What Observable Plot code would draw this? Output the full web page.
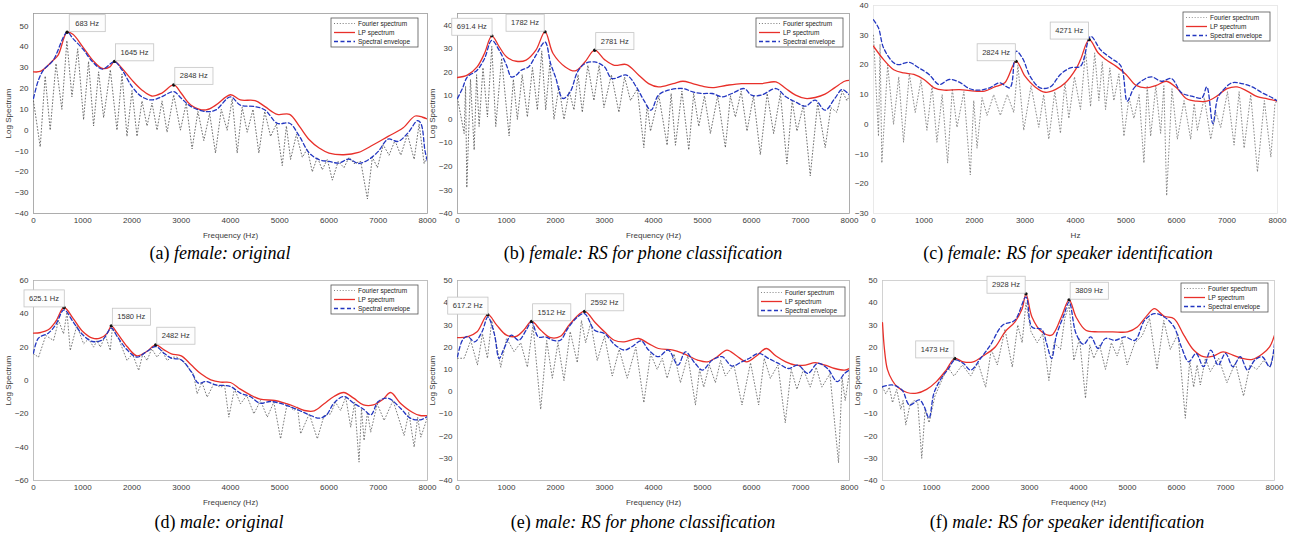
<!DOCTYPE html>
<html><head><meta charset="utf-8">
<script src="https://cdn.jsdelivr.net/npm/d3@7"></script>
<script src="https://cdn.jsdelivr.net/npm/@observablehq/plot@0.6"></script>
<style>
body{margin:0;background:#fff;}
#wrap{position:relative;width:1295px;height:539px;overflow:hidden;background:#fff;}
.cap{position:absolute;width:440px;text-align:center;font-family:"Liberation Serif","Times New Roman",serif;font-size:18px;line-height:20px;color:#000;white-space:nowrap;}
.cap i{font-style:italic;}
</style></head><body><div id="wrap"></div><script>
// ---------- tick labels / texts ----------
const xTicks = [0,1000,2000,3000,4000,5000,6000,7000,8000];
const yTicksA = [-40,-30,-20,-10,0,10,20,30,40,50];
const yTicksB = [-40,-30,-20,-10,0,10,20,30,40];
const yTicksC = [-30,-20,-10,0,10,20,30,40];
const yTicksD = [-60,-40,-20,0,20,40,60];
const yTicksE = [-40,-30,-20,-10,0,10,20,30,40,50];
const yTicksF = [-40,-30,-20,-10,0,10,20,30,40,50];
const legendLabels = ["Fourier spectrum","LP spectrum","Spectral envelope"];
const xLabelFreq = "Frequency (Hz)";
const xLabelHz = "Hz";
const yLabelLog = "Log Spectrum";
const captions = [["(a) ","female: original"],["(b) ","female: RS for phone classification"],["(c) ","female: RS for speaker identification"],["(d) ","male: original"],["(e) ","male: RS for phone classification"],["(f) ","male: RS for speaker identification"]];

// ---------- (a) female original ----------
const lpA = [[0,28],[150,28.3],[400,33.6],[500,36],[683,47],[800,46],[1000,40],[1200,33.6],[1400,29.6],[1550,30.4],[1645,33],[1800,29.6],[2000,24],[2200,19.3],[2400,16.4],[2600,17.7],[2848,21.7],[3000,17.7],[3200,12],[3500,9.7],[3700,12],[4000,17],[4200,14.5],[4500,14.2],[4700,11.3],[4950,7.6],[5200,7.6],[5400,1.8],[5600,-4.6],[5800,-8.6],[6000,-11],[6300,-11.8],[6600,-10.7],[6900,-7],[7200,-3],[7500,1],[7750,6.8],[7900,6.2],[8000,5.3]];
const envA = [[0,15.3],[100,24],[200,28.8],[400,33.6],[683,47],[800,44],[1000,39],[1200,32.8],[1400,29.3],[1645,32.8],[1800,28.8],[2000,20.9],[2200,16],[2400,14.5],[2600,16],[2848,18.5],[3000,15.3],[3200,11.3],[3500,8.9],[3700,9.7],[4000,16],[4200,12],[4500,11.3],[4700,9.7],[4950,3.3],[5200,3.3],[5400,-3],[5600,-11],[5800,-14.2],[6000,-15],[6200,-15.8],[6400,-13.9],[6600,-16],[6800,-14.2],[7000,-10.2],[7200,-4.3],[7400,-5.4],[7600,-1.4],[7800,4.6],[7870,3],[7950,-10],[8000,-15]];
const fourierA = [[0,14],[136,-8],[237,26],[339,0],[457,32],[576,10],[678,43],[780,16],[898,39],[1017,5],[1118,33],[1220,2],[1322,28],[1424,6],[1560,29],[1695,0],[1797,27],[1898,-3],[2000,19],[2102,-3],[2203,14],[2305,2],[2407,13],[2508,0],[2610,14],[2712,-1],[2847,17],[2983,0],[3100,13],[3220,-9],[3339,9],[3458,-5],[3576,8],[3695,-11],[3813,10],[3932,0],[4034,15],[4136,-11],[4237,11],[4339,-1],[4457,10],[4576,-11],[4695,9],[4814,-3],[4932,3],[5051,-17],[5135,2],[5220,-14],[5339,-2],[5458,-13],[5559,-9],[5661,-20],[5763,-13],[5864,-19],[5966,-14],[6068,-24],[6186,-15],[6305,-18],[6407,-13],[6508,-16],[6644,-15],[6780,-33],[6881,-13],[6983,-18],[7100,-7],[7220,-12],[7339,-5],[7458,-12],[7593,-2],[7729,-14],[7830,3],[7932,-16],[8000,-12]];
const tipsA = [[683,47,"683 Hz"],[1645,33,"1645 Hz"],[2848,21.7,"2848 Hz"]];

// ---------- (b) female RS phone ----------
const lpB = [[0,17.8],[200,18.8],[400,22.3],[550,28],[700,35.5],[850,30.9],[1000,26.6],[1200,24.7],[1400,25.2],[1600,29.4],[1786,37.2],[1950,28],[2200,22.3],[2400,20.6],[2600,24.4],[2800,29.4],[3000,25.4],[3200,23],[3450,23.3],[3700,18.8],[3900,15.2],[4100,13.8],[4400,15.2],[4600,16.2],[4800,15.2],[5000,14.1],[5200,13.5],[5500,14.5],[5800,15.2],[6200,15.2],[6500,15.9],[6700,13.1],[6900,10.3],[7100,8.9],[7300,9.3],[7500,10.7],[7700,13.5],[7900,16.2],[8000,16.6]];
const envB = [[0,8.9],[100,13.1],[200,18],[400,20.9],[550,25.8],[700,33.6],[850,29.4],[1000,23],[1100,18],[1200,18.8],[1300,20.9],[1450,22.3],[1600,27.2],[1786,32.9],[1900,23.7],[2000,18],[2150,8.9],[2300,11.7],[2450,20.2],[2600,23.7],[2800,24.4],[3000,22.3],[3150,17.4],[3450,18.8],[3650,13.8],[3800,8.2],[3950,3.9],[4100,10.3],[4300,12.4],[4600,13.1],[4800,11.7],[5000,11],[5200,11],[5400,9.6],[5600,11],[5850,13.1],[6000,10.3],[6200,10.3],[6500,13.1],[6700,9.6],[6900,7.4],[7100,5.6],[7300,8.2],[7500,3.9],[7700,8.9],[7850,12.7],[8000,10.3]];
const fourierB = [[0,9],[136,-6],[165,14],[190,-29],[265,17],[340,-13],[390,19],[441,-3],[520,22],[611,1],[700,31],[781,-3],[900,26],[1053,-7],[1140,17],[1222,0],[1320,19],[1426,1],[1530,22],[1630,4],[1720,29],[1800,4],[1885,24],[1969,0],[2070,14],[2173,0],[2280,12],[2377,4],[2460,19],[2547,3],[2660,23],[2784,8],[2890,23],[2988,5],[3140,19],[3294,3],[3410,18],[3531,8],[3670,13],[3803,-12],[3870,6],[3939,-5],[4110,10],[4278,-11],[4360,11],[4448,-11],[4580,12],[4720,-13],[4820,11],[4924,-3],[5040,10],[5161,-6],[5310,10],[5467,-12],[5570,10],[5671,1],[5790,12],[5908,-5],[6040,10],[6180,-15],[6320,11],[6452,-6],[6590,11],[6723,-19],[6830,8],[6927,-5],[7060,6],[7199,-24],[7350,7],[7504,-12],[7620,5],[7742,3],[7850,12],[7946,8],[8000,10]];
const tipsB = [[700,35.5,"691.4 Hz"],[1786,37.2,"1782 Hz"],[2800,29.4,"2781 Hz"]];

// ---------- (c) female RS speaker ----------
const lpC = [[0,26.3],[200,21.8],[400,18.4],[600,17.3],[800,16.8],[1000,15.1],[1200,12.3],[1400,11.5],[1700,11.7],[2000,11.2],[2200,11.2],[2400,12.6],[2600,14],[2824,21.2],[3000,16.2],[3200,12.6],[3400,10.8],[3600,11.7],[3800,14],[4000,18.4],[4100,21.8],[4271,28.5],[4450,24],[4600,21.8],[4800,19.6],[5000,16.8],[5200,13.1],[5400,12.3],[5600,13.1],[5800,14.5],[6000,12.3],[6200,8.6],[6400,7.8],[6600,7.8],[6800,9.5],[7000,12],[7200,12.6],[7400,11.2],[7600,9.3],[7800,8.6],[8000,7.8]];
const envC = [[0,35.2],[100,32.4],[200,25.7],[400,20.7],[500,20.1],[700,20.9],[900,19],[1100,16.8],[1300,13.4],[1500,15.1],[1700,14.2],[1900,12],[2100,11.5],[2300,12.3],[2500,14],[2700,12.3],[2824,24.6],[2950,22.3],[3100,16.2],[3300,12.3],[3500,12.6],[3700,16.8],[3900,19],[4100,19.6],[4300,29.6],[4500,25],[4700,22.3],[4900,19.6],[5025,7.8],[5150,12],[5300,14.5],[5500,16],[5700,14.5],[5900,15.4],[6100,10.6],[6300,9.5],[6500,8.9],[6600,12.6],[6720,0.2],[6820,9],[6950,12],[7100,14],[7300,13.7],[7500,12.6],[7700,10.6],[7900,8.9],[8000,7.8]];
const fourierC = [[0,30],[99,-4],[130,27],[165,-13],[280,20],[397,0],[500,16],[595,-6],[710,17],[826,4],[940,15],[1058,-2],[1160,13],[1256,-6],[1360,10],[1468,-13],[1560,12],[1653,-1],[1790,11],[1917,-17],[1985,8],[2050,-8],[2150,9],[2248,3],[2380,10],[2512,3],[2650,10],[2777,4],[2860,20],[2975,-2],[3120,13],[3273,-1],[3370,10],[3471,-5],[3590,11],[3702,-3],[3790,14],[3868,2],[3980,16],[4099,5],[4200,25],[4298,6],[4380,24],[4463,8],[4530,21],[4595,5],[4680,19],[4760,8],[4860,17],[4959,-4],[5060,9],[5157,2],[5260,10],[5355,-13],[5420,13],[5488,-4],[5590,13],[5686,-3],[5750,13],[5805,-24],[5910,12],[6017,-5],[6150,8],[6281,-5],[6350,7],[6413,-2],[6550,9],[6678,-5],[6780,4],[6876,-1],[7010,11],[7140,-7],[7240,11],[7339,-8],[7470,10],[7603,-16],[7740,8],[7868,-11],[7950,7],[8000,8]];
const tipsC = [[2824,21.2,"2824 Hz"],[4271,28.5,"4271 Hz"]];

// ---------- (d) male original ----------
const lpD = [[0,28.4],[150,28.8],[300,30.4],[450,35.4],[620,43.8],[800,37.4],[1000,29.4],[1200,25.4],[1350,25.4],[1500,28.4],[1580,32.8],[1700,28.4],[1900,20.4],[2100,14.8],[2300,17.4],[2482,21.4],[2650,18.4],[2800,16],[3000,14.8],[3200,9.4],[3400,4],[3600,0.4],[3800,-1],[4000,-1.2],[4200,-5.2],[4400,-8.6],[4600,-11.2],[4900,-12],[5100,-13.6],[5300,-15.6],[5500,-18],[5700,-18.2],[5900,-14],[6100,-9.6],[6300,-7.2],[6500,-10.6],[6700,-14.6],[6900,-14.6],[7100,-11.2],[7250,-7.2],[7450,-13.6],[7700,-19.2],[7850,-21],[8000,-21]];
const envD = [[0,16.4],[100,25.4],[300,28.4],[450,33.4],[620,42.4],[800,35.4],[1000,27.4],[1200,23.4],[1400,24.4],[1580,31.4],[1700,26.4],[1900,18.4],[2100,14],[2300,17.4],[2482,20.4],[2650,16.4],[2800,13.4],[3000,12.4],[3200,5.4],[3350,-1.6],[3500,-0.6],[3700,-2.6],[4000,-3.6],[4200,-7.6],[4400,-9.6],[4600,-13.6],[4800,-12.6],[5000,-13.6],[5200,-15.6],[5400,-18],[5600,-20.6],[5800,-22.6],[5950,-20.6],[6100,-13.6],[6300,-9.6],[6500,-13.6],[6700,-17.2],[6850,-20.6],[7000,-12.6],[7200,-10.6],[7450,-16.6],[7650,-22.6],[7850,-23.6],[8000,-21.6]];
const fourierD = [[0,16],[102,14],[250,27],[407,24],[510,36],[610,28],[680,41],[746,18],[880,33],[1017,22],[1120,25],[1220,20],[1290,24],[1356,20],[1460,27],[1559,18],[1600,31],[1730,25],[1898,12],[2010,16],[2136,6],[2220,16],[2305,12],[2400,19],[2508,14],[2610,18],[2712,12],[2810,14],[2915,14],[3050,11],[3186,6],[3250,4],[3322,-8],[3420,-1],[3525,-10],[3660,-2],[3797,-4],[3880,-3],[3966,-22],[4080,-5],[4203,-14],[4330,-9],[4475,-20],[4610,-12],[4746,-22],[4880,-13],[5017,-35],[5150,-14],[5288,-18],[5360,-16],[5424,-32],[5600,-20],[5763,-35],[5900,-21],[6034,-20],[6130,-13],[6237,-18],[6340,-10],[6441,-28],[6520,-13],[6610,-49],[6660,-17],[6712,-36],[6780,-19],[6847,-31],[6980,-14],[7119,-24],[7300,-12],[7525,-33],[7620,-19],[7729,-40],[7800,-22],[7864,-34],[8000,-22]];
const tipsD = [[620,43.8,"625.1 Hz"],[1580,32.8,"1580 Hz"],[2482,21.4,"2482 Hz"]];

// ---------- (e) male RS phone ----------
const lpE = [[0,24.3],[200,24.6],[400,26.9],[620,34.6],[800,29.9],[1000,25.4],[1200,24.9],[1350,27.6],[1512,31.6],[1700,27.6],[1900,24.3],[2100,24.9],[2300,30.6],[2592,36.1],[2800,31.3],[3000,26.9],[3200,23.1],[3400,22.4],[3700,23.9],[3900,21.6],[4100,19.4],[4400,18.7],[4600,17.2],[4900,14.2],[5100,13.4],[5300,15.7],[5500,18.7],[5700,16],[5900,13.4],[6100,16],[6300,19.4],[6500,16],[6700,13.4],[6900,11.9],[7100,11.9],[7300,13],[7500,11.9],[7700,10.4],[7900,9.7],[8000,10.4]];
const envE = [[0,15.7],[100,23.1],[200,24.9],[350,22.4],[500,26.9],[620,33.6],[750,26.1],[850,14.9],[950,19.4],[1100,25.4],[1250,23.1],[1400,27.6],[1512,31.3],[1650,24.6],[1800,24.6],[1950,23.1],[2100,23.1],[2250,28.4],[2450,33.6],[2592,35.1],[2800,27.6],[3000,26.1],[3200,21.3],[3400,18.7],[3550,20.1],[3750,22.8],[3900,18.7],[4100,15.7],[4300,18.7],[4500,11.9],[4650,17.9],[4850,12.7],[5000,9.7],[5200,14.2],[5400,15.7],[5600,11.5],[5800,13.4],[5950,14.9],[6150,17.2],[6350,14.9],[6550,12.7],[6750,10.4],[6950,11.9],[7150,8.2],[7350,12.7],[7550,10.4],[7750,4.5],[7900,8.2],[8000,9.7]];
const fourierE = [[0,15],[136,15],[270,23],[407,12],[510,26],[611,15],[700,32],[883,11],[1000,24],[1155,18],[1290,22],[1426,11],[1540,30],[1698,-8],[1820,23],[1935,6],[2050,22],[2173,5],[2300,27],[2445,13],[2530,32],[2615,22],[2720,31],[2852,14],[3000,25],[3158,7],[3300,19],[3463,6],[3640,20],[3803,-5],[3940,17],[4075,10],[4180,15],[4278,6],[4420,17],[4550,4],[4700,16],[4856,-6],[4940,10],[5025,2],[5140,12],[5263,4],[5370,14],[5467,7],[5640,12],[5806,-6],[5980,13],[6146,-6],[6260,15],[6384,6],[6540,12],[6689,-14],[6810,10],[6927,1],[7060,10],[7199,2],[7320,11],[7436,2],[7600,8],[7776,-32],[7850,6],[7912,-4],[8000,9]];
const tipsE = [[617,34.6,"617.2 Hz"],[1512,31.6,"1512 Hz"],[2592,36.1,"2592 Hz"]];

// ---------- (f) male RS speaker ----------
const lpF = [[0,31],[40,19],[100,10],[200,5],[300,2.2],[500,-0.4],[700,-0.7],[900,1],[1100,4.5],[1300,9.7],[1473,14.9],[1650,13.4],[1850,13.4],[2050,16],[2300,20.1],[2500,26.9],[2700,31.3],[2850,37.3],[2928,44],[3050,33.6],[3250,26.9],[3450,25.4],[3650,33.6],[3809,41.3],[3950,33.6],[4150,27.6],[4400,26.9],[4700,26.9],[5000,26.9],[5200,29.1],[5400,34.3],[5550,37.3],[5750,33.9],[5950,32.8],[6150,25.4],[6350,18.7],[6550,15.7],[6750,16],[6950,17.9],[7150,16.4],[7350,14.9],[7550,14.5],[7750,16.9],[7900,20.1],[8000,25.4]];
const envF = [[0,2.2],[200,3],[400,0.7],[550,-6],[750,-3.7],[850,-6.7],[950,-11.9],[1050,-0.7],[1200,6],[1350,10.4],[1473,14.2],[1650,12.7],[1800,9.7],[2000,14.9],[2200,20.9],[2450,29.9],[2700,32.1],[2928,42.5],[3050,29.1],[3250,27.9],[3350,21.6],[3450,14.9],[3550,25.4],[3700,34.3],[3809,40.3],[3950,26.1],[4100,21.3],[4250,24.6],[4400,19.4],[4550,23.9],[4750,23.1],[4950,24.6],[5150,23.1],[5350,32.1],[5550,35.1],[5750,33.6],[5950,29.1],[6100,20.1],[6250,13.4],[6400,17.2],[6550,11.2],[6700,18.7],[6850,11.9],[7000,17.2],[7150,11.2],[7300,15.7],[7450,9.7],[7600,14.2],[7750,15.7],[7900,11.2],[8000,21.6]];
const fourierF = [[0,2],[68,-1],[140,2],[204,-5],[290,1],[374,-8],[420,-4],[475,-15],[560,-6],[645,-4],[720,-5],[801,-30],[870,-8],[951,-14],[1070,-2],[1188,4],[1330,11],[1460,7],[1630,12],[1800,7],[1950,13],[2105,2],[2220,19],[2343,12],[2500,28],[2649,11],[2760,30],[2850,22],[2928,40],[3030,27],[3158,22],[3270,26],[3396,5],[3500,22],[3633,19],[3720,33],[3809,39],[3905,14],[4020,24],[4143,-3],[4230,21],[4312,15],[4430,21],[4550,10],[4670,22],[4788,16],[4890,23],[4992,12],[5150,22],[5297,25],[5450,33],[5603,10],[5740,32],[5874,19],[6030,26],[6180,-12],[6270,14],[6350,2],[6420,12],[6486,3],[6590,15],[6689,9],[6860,15],[7029,4],[7200,13],[7368,-2],[7500,12],[7640,10],[7780,14],[7912,11],[8000,19]];
const tipsF = [[1473,14.9,"1473 Hz"],[2928,44,"2928 Hz"],[3809,41.3,"3809 Hz"]];

// ---------- layout / style config ----------
const RED = "#e8302a", BLUE = "#2236c0";
const panels = [
  {lp:lpA, env:envA, four:fourierA, tips:tipsA, dirs:["r","r","r"], yDomain:[-40,56], yTicks:yTicksA, box:[33,427,13,213], xLabel:xLabelFreq, yLabel:yLabelLog, leg:[9,5], frame:"#9a9a9a", fc:"#555", cap:captions[0], capC:220, capTop:243},
  {lp:lpB, env:envB, four:fourierB, tips:tipsB, dirs:["l","l","r"], yDomain:[-40,45], yTicks:yTicksB, box:[457,849,13,213], xLabel:xLabelFreq, yLabel:yLabelLog, leg:[6,5], frame:"#9a9a9a", fc:"#555", cap:captions[1], capC:643, capTop:243},
  {lp:lpC, env:envC, four:fourierC, tips:tipsC, dirs:["l","l"], yDomain:[-30,40], yTicks:yTicksC, box:[873,1277,5,213], xLabel:xLabelHz, yLabel:null, leg:[7,7], frame:"#e4e4e4", fc:"#777", cap:captions[2], capC:1068, capTop:243},
  {lp:lpD, env:envD, four:fourierD, tips:tipsD, dirs:["l","r","r"], yDomain:[-60,60], yTicks:yTicksD, box:[33,427,280,480], xLabel:xLabelFreq, yLabel:yLabelLog, leg:[9,5], frame:"#b0b0b0", fc:"#666", cap:captions[3], capC:219, capTop:512},
  {lp:lpE, env:envE, four:fourierE, tips:tipsE, dirs:["l","r","r"], yDomain:[-40,50], yTicks:yTicksE, box:[457,849,280,480], xLabel:xLabelFreq, yLabel:yLabelLog, leg:[4,7], frame:"#b0b0b0", fc:"#666", cap:captions[4], capC:643, capTop:512},
  {lp:lpF, env:envF, four:fourierF, tips:tipsF, dirs:["l","l","r"], yDomain:[-40,50], yTicks:yTicksF, box:[882,1274,280,480], xLabel:xLabelFreq, yLabel:yLabelLog, leg:[6,3], frame:"#c8c8c8", fc:"#666", cap:captions[5], capC:1067, capTop:512}
];

const wrap = document.getElementById("wrap");
const toObj = arr => arr.map(([f,v]) => ({f, v}));

function draw(p){
  const mL=45, mR=12, mT=10, mB=38;
  const [x0,x1,y0,y1] = p.box;
  const pw = x1-x0, ph = y1-y0;
  const tips = p.tips.map(([f,v,label],i) => ({f, v, label, dir:p.dirs[i]}));
  const svg = Plot.plot({
    width: pw+mL+mR, height: ph+mT+mB,
    marginLeft:mL, marginRight:mR, marginTop:mT, marginBottom:mB,
    style:{fontFamily:"'Liberation Sans', Arial, sans-serif", fontSize:"8px", color:"#3a3a3a", background:"transparent", overflow:"visible"},
    x:{domain:[0,8000], ticks:xTicks, tickFormat:"d", tickSize:0, tickPadding:4, label:p.xLabel, labelAnchor:"center", labelOffset:24, labelArrow:"none"},
    y:{domain:p.yDomain, ticks:p.yTicks, tickSize:0, tickPadding:5, label:p.yLabel, labelAnchor:"center", labelOffset:28, labelArrow:"none"},
    marks:[
      Plot.frame({stroke:p.frame, strokeWidth:0.8}),
      Plot.line(toObj(p.four), {x:"f", y:"v", stroke:p.fc, strokeWidth:0.85, strokeDasharray:"0.9,2.3", clip:true}),
      Plot.line(toObj(p.lp), {x:"f", y:"v", stroke:RED, strokeWidth:1.3, curve:"catmull-rom", clip:true}),
      Plot.line(toObj(p.env), {x:"f", y:"v", stroke:BLUE, strokeWidth:1.3, strokeDasharray:"4,2.5", curve:"catmull-rom", clip:true}),
      Plot.dot(tips, {x:"f", y:"v", r:1.7, fill:"#111", stroke:"none"}),
      Plot.text(tips.filter(d=>d.dir==="r"), {x:"f", y:"v", text:"label", dx:20, dy:-9, fontSize:7.5, fill:"#333"}),
      Plot.text(tips.filter(d=>d.dir==="l"), {x:"f", y:"v", text:"label", dx:-20, dy:-9, fontSize:7.5, fill:"#333"})
    ]
  });
  svg.style.position = "absolute";
  svg.style.left = (x0-mL)+"px";
  svg.style.top = (y0-mT)+"px";
  wrap.appendChild(svg);

  // data-tip boxes behind the labels
  svg.querySelectorAll('g[aria-label="text"] text').forEach(t => {
    const bb = t.getBBox();
    const r = document.createElementNS("http://www.w3.org/2000/svg","rect");
    const w = Math.max(bb.width+10, 36), h = 17;
    r.setAttribute("x", bb.x + bb.width/2 - w/2);
    r.setAttribute("y", bb.y + bb.height/2 - h/2);
    r.setAttribute("width", w); r.setAttribute("height", h);
    r.setAttribute("fill", "#fdfdfd"); r.setAttribute("stroke", "#c4c4c4"); r.setAttribute("stroke-width", "0.8");
    const tr = t.getAttribute("transform"); if (tr) r.setAttribute("transform", tr);
    t.parentNode.insertBefore(r, t);
  });

  // legend
  const bw=87, bh=29;
  const lx = mL + pw - p.leg[0] - bw, ly = mT + p.leg[1];
  const g = d3.select(svg).append("g").attr("transform", `translate(${lx},${ly})`).attr("text-anchor","start");
  g.append("rect").attr("width", bw).attr("height", bh).attr("fill", "#fff").attr("stroke", "#555").attr("stroke-width", 0.8);
  const styles = [{s:p.fc, d:"0.9,2", w:0.9}, {s:RED, d:null, w:1.3}, {s:BLUE, d:"4,2.5", w:1.3}];
  legendLabels.forEach((lab,i) => {
    const yy = 5.5 + i*9;
    const ln = g.append("line").attr("x1",3).attr("x2",24).attr("y1",yy).attr("y2",yy)
      .attr("stroke", styles[i].s).attr("stroke-width", styles[i].w);
    if (styles[i].d) ln.attr("stroke-dasharray", styles[i].d);
    g.append("text").attr("x",27).attr("y",yy).attr("dy","0.32em").attr("text-anchor","start")
      .attr("font-size",6.5).attr("fill","#222").text(lab);
  });

  // caption
  const cap = document.createElement("div");
  cap.className = "cap";
  cap.style.left = (p.capC-220)+"px";
  cap.style.top = p.capTop+"px";
  cap.innerHTML = p.cap[0] + "<i>" + p.cap[1] + "</i>";
  wrap.appendChild(cap);
}
panels.forEach(draw);
</script></body></html>
